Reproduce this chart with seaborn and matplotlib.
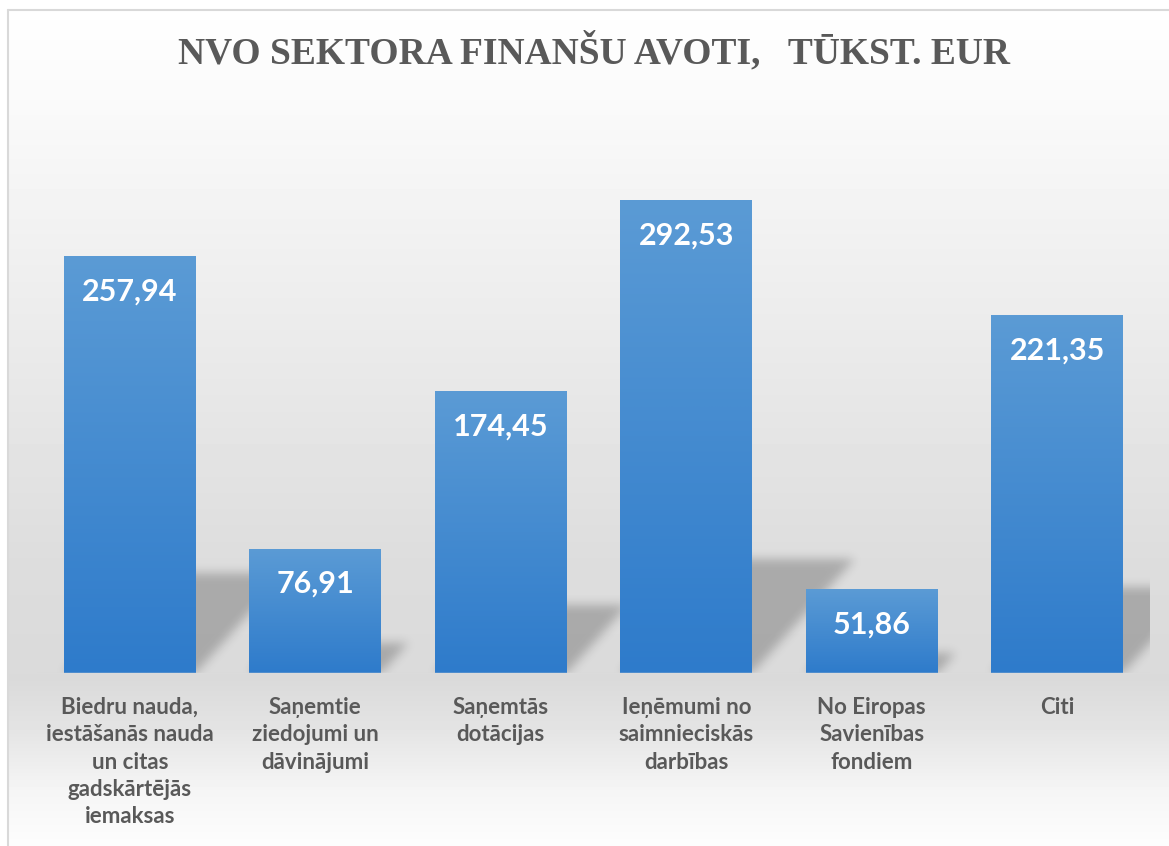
import numpy as np
import pandas as pd
import matplotlib
matplotlib.use("Agg")
import matplotlib.pyplot as plt
import seaborn as sns
from matplotlib.colors import LinearSegmentedColormap

# ---------------- data ----------------
categories = [
    "Biedru nauda,\niestāšanās nauda\nun citas\ngadskārtējās\niemaksas",
    "Saņemtie\nziedojumi un\ndāvinājumi",
    "Saņemtās\ndotācijas",
    "Ieņēmumi no\nsaimnieciskās\ndarbības",
    "No Eiropas\nSavienības\nfondiem",
    "Citi",
]
values = [257.94, 76.91, 174.45, 292.53, 51.86, 221.35]
value_labels = ["257,94", "76,91", "174,45", "292,53", "51,86", "221,35"]
title = "NVO SEKTORA FINANŠU AVOTI,   TŪKST. EUR"

# ---------------- setup ----------------
W, H, DPI = 1169, 846, 100
sns.set_theme(style="white")
plt.rcParams['font.family'] = ['Lato', 'DejaVu Sans']

fig = plt.figure(figsize=(W / DPI, H / DPI), dpi=DPI)
fig.patch.set_facecolor('white')

# background axes in pixel coordinates (y down)
bg = fig.add_axes([0, 0, 1, 1], zorder=0)
bg.set_xlim(0, W)
bg.set_ylim(H, 0)
bg.axis('off')

ys = np.arange(H) + 0.5
stops_y = [0, 100, 250, 560, 680, 730, 790, 846]
stops_v = [255, 250, 240, 221, 218, 228, 245, 253]
col = np.interp(ys, stops_y, stops_v) / 255.0
grad = np.repeat(col[:, None], W, axis=1)
grad[:10, :] = 1.0
grad[:, :8] = 1.0
bg.imshow(grad, cmap='gray', vmin=0, vmax=1, extent=[0, W, H, 0],
          aspect='auto', interpolation='nearest', zorder=0)
bg.plot([8, 8], [10, H], color='#D9D9D9', lw=1.5, zorder=3)
bg.plot([8, W], [10, 10], color='#D9D9D9', lw=1.5, zorder=3)

# main axes
ax = fig.add_axes([37 / W, 173 / H, (1150 - 37) / W, (673 - 107) / H], zorder=1)
ax.patch.set_alpha(0)
df = pd.DataFrame({"cat": categories, "val": values})
sns.barplot(data=df, x="cat", y="val", color="#5B9BD5", width=0.71,
            saturation=1, ax=ax, zorder=2)
ax.set_xlim(-0.5, 5.5)
ax.set_ylim(0, 350)

cmap = LinearSegmentedColormap.from_list("barg", ["#2E7BCB", "#5B9BD5"])
gvals = np.linspace(0, 1, 256)[:, None]
patches = list(ax.patches)
for p in patches:
    x, w, h = p.get_x(), p.get_width(), p.get_height()
    p.set_facecolor('none')
    p.set_edgecolor('none')
    im = ax.imshow(gvals, cmap=cmap, origin='lower', extent=[x, x + w, 0, h],
                   aspect='auto', interpolation='bilinear', zorder=2)
    im.set_clip_path(p)
ax.set_xlim(-0.5, 5.5)
ax.set_ylim(0, 350)

# shadows (perspective, computed from bar extents)
yy, xx = np.mgrid[0:H, 0:W] + 0.5
shadow = np.zeros((H, W))
base_px = None
skew = 0.9
for p in patches:
    x0d, y0d = ax.transData.transform((p.get_x(), 0))
    x1d, y1d = ax.transData.transform((p.get_x() + p.get_width(), p.get_height()))
    base = H - y0d
    top = H - y1d
    base_px = base
    sh = 0.24 * (base - top)
    rise = base - yy
    inside = (rise >= 0) & (rise <= sh) & (xx >= x0d + skew * rise) & (xx <= x1d + skew * rise)
    shadow[inside] = 1.0


def blur(a, s):
    r = int(3 * s)
    k = np.exp(-0.5 * (np.arange(-r, r + 1) / s) ** 2)
    k /= k.sum()
    a = np.apply_along_axis(lambda m: np.convolve(m, k, mode='same'), 0, a)
    a = np.apply_along_axis(lambda m: np.convolve(m, k, mode='same'), 1, a)
    return a


shadow = blur(shadow, 5)
shadow[yy > base_px] = 0
right_px = ax.transAxes.transform((1, 0))[0]
shadow[xx > right_px] = 0
rgba = np.zeros((H, W, 4))
rgba[..., 3] = 0.23 * shadow
bg.imshow(rgba, extent=[0, W, H, 0], aspect='auto', interpolation='bilinear', zorder=1)

# axis styling
for s in ax.spines.values():
    s.set_visible(False)
ax.axhline(0, color='#D9D9D9', lw=1.0, zorder=3)
ax.set_xlabel('')
ax.set_ylabel('')
ax.set_yticks([])
ax.set_xticks(range(len(categories)))
ax.set_xticklabels(categories, fontsize=16, fontweight='bold', color='#595959',
                   linespacing=1.38)
ax.tick_params(axis='x', length=0, pad=17)

for p, lab in zip(patches, value_labels):
    cx = p.get_x() + p.get_width() / 2
    ax.annotate(lab, (cx, p.get_height()), xytext=(0, -25.5), textcoords='offset points',
                ha='center', va='center', color='white', fontsize=22, fontweight='bold',
                zorder=4)

fig.text(593.5 / W, 1 - 52 / H, title, ha='center', va='center',
         family='Liberation Serif', fontweight='bold', fontsize=27, color='#595959')

fig.savefig('out.png', dpi=DPI)
